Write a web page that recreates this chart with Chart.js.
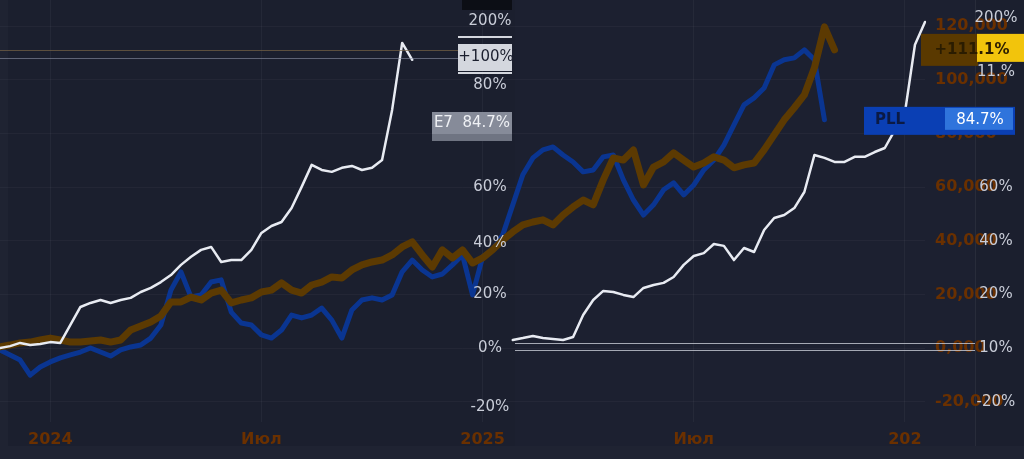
<!DOCTYPE html>
<html>
<head>
<meta charset="utf-8">
<script src="https://cdn.jsdelivr.net/npm/chart.js@4.4.1/dist/chart.umd.min.js"></script>
<style>
  html, body { margin: 0; padding: 0; background: #1b1f2e; overflow: hidden; }
  #chart { display: block; }
</style>
</head>
<body>
<canvas id="chart" width="1024" height="459"></canvas>
<script>
// weekly points, Dec 2023 .. early 2026
const weekCount = 93;
const weeks = Array.from({ length: weekCount }, (_, i) => "w" + i);

// x tick labels: index -> text
const xTickIndex = [5, 26, 48, 69, 90];
const xTickText = ["2024", "Июл", "2025", "Июл", "202"];

const yTickValues = [-20000, 0, 20000, 40000, 60000, 80000, 100000, 120000];

// series values, thousands
const orangeSeries = [
  0.4, 1.1, 1.9, 2.2, 3.0, 3.7, 3.0, 2.2, 2.2, 2.6,
  3.0, 2.2, 3.0, 6.7, 8.2, 9.7, 11.9, 17.2, 17.2, 19.0,
  17.9, 20.5, 21.6, 16.8, 17.9, 18.7, 20.9, 21.6, 24.3, 21.6,
  20.5, 23.5, 24.6, 26.5, 26.1, 29.1, 31.0, 32.1, 32.8, 34.7,
  37.7, 39.6, 34.7, 30.2, 36.6, 33.6, 36.6, 31.7, 33.6, 36.6,
  40.3, 43.3, 45.9, 47.0, 47.8, 45.9, 49.6, 52.6, 55.2, 53.4,
  62.7, 70.9, 70.1, 73.9, 60.8, 67.5, 69.4, 72.8, 70.1, 67.5,
  69.0, 71.3, 70.1, 67.2, 68.3, 69.0, 73.9, 79.5, 85.1, 89.6,
  94.4, 104.5, 119.8, 111.2
];

const blueSeries = [
  -0.7, -2.6, -4.5, -10.1, -7.1, -5.2, -3.7, -2.6, -1.5, 0,
  -1.5, -3.0, -0.7, 0.4, 1.1, 3.7, 8.6, 21.6, 28.4, 19.0,
  19.8, 24.6, 25.4, 13.4, 9.3, 8.6, 4.9, 3.7, 6.7, 12.3,
  11.2, 12.3, 14.9, 10.4, 3.7, 14.2, 17.9, 18.7, 17.9, 19.8,
  28.4, 32.8, 29.1, 26.5, 27.6, 31.0, 34.7, 19.8, 34.0, 36.6,
  42.2, 53.4, 64.6, 70.9, 73.9, 75.0, 72.0, 69.4, 65.7, 66.4,
  71.3, 72.0, 62.7, 55.2, 49.6, 53.4, 59.0, 61.6, 57.1, 60.8,
  66.4, 70.1, 75.7, 83.2, 90.7, 93.3, 97.0, 105.6, 107.5, 108.2,
  111.2, 107.5, 85.1
];

const whiteSeriesA = [
  0, 0.7, 1.9, 1.1, 1.5, 2.2, 1.9, 8.6, 15.3, 16.8,
  17.9, 16.8, 17.9, 18.7, 20.9, 22.4, 24.6, 27.2, 31.0, 34.0,
  36.6, 37.7, 32.1, 32.8, 32.8, 36.6, 42.9, 45.5, 47.0, 52.2,
  60.1, 68.3, 66.4, 65.7, 67.2, 67.9, 66.4, 67.2, 70.1, 88.8,
  113.8, 107.5
];

const whiteSeriesBStart = 51;
const whiteSeriesB = [
  3.0, 3.7, 4.5, 3.7, 3.4, 3.0, 4.1, 12.3, 17.9, 21.3,
  20.9, 19.8, 19.0, 22.4, 23.5, 24.3, 26.5, 31.0, 34.3, 35.4,
  38.8, 38.1, 32.8, 37.3, 35.8, 44.0, 48.5, 49.6, 52.2, 58.2,
  72.0, 70.9, 69.4, 69.4, 71.3, 71.3, 73.1, 74.6, 81.3, 87.7,
  113.1, 121.6
];

const leftPctLabels = [
  { v: 122000, t: "200%" }, { v: 98000, t: "80%" }, { v: 60000, t: "60%" },
  { v: 39000, t: "40%" }, { v: 20000, t: "20%" }, { v: 0, t: "0%" }, { v: -22000, t: "-20%" }
];
const rightPctLabels = [
  { v: 123000, t: "200%" }, { v: 103000, t: "11.%" }, { v: 60000, t: "60%" },
  { v: 40000, t: "40%" }, { v: 20000, t: "20%" }, { v: 0, t: "10%" }, { v: -20000, t: "-20%" }
];

const toUnits = (arr) => arr.map((v) => (v === null ? null : v * 1000));
const padSeries = (arr, start) => {
  const out = new Array(weekCount).fill(null);
  arr.forEach((v, i) => { out[start + i] = v * 1000; });
  return out;
};
const noPadding = (s) => {
  s.paddingTop = 0;
  s.paddingBottom = 0;
  s.paddingLeft = 0;
  s.paddingRight = 0;
};

const overlays = {
  id: "overlays",
  beforeDraw(chart) {
    const { ctx } = chart;
    ctx.save();
    ctx.fillStyle = "#1b1f2e";
    ctx.fillRect(0, 0, chart.width, chart.height);
    ctx.fillStyle = "#1f2332";
    ctx.fillRect(0, 446, chart.width, chart.height - 446);
    ctx.fillRect(0, 0, 8, 446);
    ctx.fillStyle = "#1c2030";
    ctx.fillRect(515, 0, 460, 446);
    ctx.strokeStyle = "rgba(255,255,255,0.06)";
    ctx.beginPath();
    ctx.moveTo(975.5, 0);
    ctx.lineTo(975.5, 446);
    ctx.stroke();
    ctx.restore();
  },
  afterDatasetsDraw(chart) {
    const { ctx } = chart;
    const y = chart.scales.y;
    const py = (v) => Math.round(y.getPixelForValue(v)) + 0.5;
    ctx.save();
    // price lines
    ctx.lineWidth = 1;
    ctx.strokeStyle = "rgba(120,100,70,0.7)";
    ctx.beginPath();
    ctx.moveTo(0, py(111200));
    ctx.lineTo(460, py(111200));
    ctx.stroke();
    ctx.strokeStyle = "rgba(140,145,165,0.6)";
    ctx.beginPath();
    ctx.moveTo(0, py(108000));
    ctx.lineTo(460, py(108000));
    ctx.stroke();
    ctx.strokeStyle = "rgba(200,204,214,0.8)";
    [1900, -700].forEach((v) => {
      ctx.beginPath();
      ctx.moveTo(515, py(v));
      ctx.lineTo(975, py(v));
      ctx.stroke();
    });

    // percent labels
    ctx.font = "15px 'DejaVu Sans', sans-serif";
    ctx.fillStyle = "#c9cdd8";
    ctx.textAlign = "center";
    ctx.textBaseline = "middle";
    leftPctLabels.forEach((l) => ctx.fillText(l.t, 490, y.getPixelForValue(l.v)));
    rightPctLabels.forEach((l) => ctx.fillText(l.t, 996, y.getPixelForValue(l.v)));

    // top dark box
    ctx.fillStyle = "#0c0e15";
    ctx.fillRect(462, 0, 50, 10);

    // left white box
    ctx.fillStyle = "#d4d7de";
    ctx.fillRect(458, 44, 54, 27);
    ctx.fillStyle = "#1b1f2e";
    ctx.fillText("+100%", 486, 57);
    ctx.fillStyle = "#d4d7de";
    ctx.fillRect(458, 36, 54, 2);
    ctx.fillRect(458, 72, 54, 2);

    // gray box
    ctx.fillStyle = "#868b99";
    ctx.fillRect(432, 112, 80, 22);
    ctx.fillStyle = "#6f7482";
    ctx.fillRect(432, 134, 80, 7);
    ctx.fillStyle = "#eef0f4";
    ctx.fillText("E7  84.7%", 472, 123);

    // orange last value label
    const oy = y.getPixelForValue(orangeSeries[orangeSeries.length - 1] * 1000);
    ctx.fillStyle = "#5a3900";
    ctx.fillRect(921, oy - 16, 57, 32);
    ctx.fillStyle = "#f2c40c";
    ctx.fillRect(977, oy - 16, 47, 28);
    ctx.fillStyle = "#2a1c00";
    ctx.font = "bold 15px 'DejaVu Sans', sans-serif";
    ctx.fillText("+111.1%", 972, oy);

    // blue last value label
    const by = y.getPixelForValue(blueSeries[blueSeries.length - 1] * 1000);
    ctx.fillStyle = "#0a3fb4";
    ctx.fillRect(864, by - 13, 151, 28);
    ctx.fillStyle = "#2f74dc";
    ctx.fillRect(945, by - 12, 68, 22);
    ctx.fillStyle = "#0b1a44";
    ctx.fillText("PLL", 890, by);
    ctx.fillStyle = "#ffffff";
    ctx.font = "15px 'DejaVu Sans', sans-serif";
    ctx.fillText("84.7%", 980, by);
    ctx.restore();
  }
};

new Chart(document.getElementById("chart"), {
  type: "line",
  data: {
    labels: weeks,
    datasets: [
      {
        data: whiteSeriesA.map((v) => v * 1000).concat(new Array(weekCount - whiteSeriesA.length).fill(null)),
        borderColor: "#e8ebf2",
        borderWidth: 2.5,
        order: 1
      },
      {
        data: padSeries(whiteSeriesB, whiteSeriesBStart),
        borderColor: "#e8ebf2",
        borderWidth: 2.5,
        order: 1
      },
      {
        data: toUnits(orangeSeries),
        borderColor: "#5c3a02",
        borderWidth: 7,
        order: 2
      },
      {
        data: toUnits(blueSeries),
        borderColor: "#0a3591",
        borderWidth: 5,
        order: 3
      }
    ]
  },
  options: {
    responsive: false,
    animation: false,
    devicePixelRatio: 1,
    spanGaps: false,
    layout: { padding: 0 },
    elements: {
      point: { radius: 0 },
      line: { tension: 0, borderJoinStyle: "round", borderCapStyle: "round" }
    },
    plugins: {
      legend: { display: false },
      tooltip: { enabled: false }
    },
    scales: {
      x: {
        type: "category",
        offset: false,
        border: { display: false },
        grid: { color: "rgba(255,255,255,0.045)", drawTicks: false },
        ticks: {
          autoSkip: false,
          maxRotation: 0,
          padding: 8,
          color: "#6a3000",
          font: { family: "'DejaVu Sans', sans-serif", size: 16, weight: "bold" },
          callback: (val, i) => {
            const k = xTickIndex.indexOf(i);
            return k >= 0 ? xTickText[k] : null;
          }
        },
        afterFit: (s) => { s.height = 37; noPadding(s); }
      },
      y: {
        position: "right",
        min: -27600,
        max: 129800,
        border: { display: false },
        grid: { color: "rgba(255,255,255,0.035)", drawTicks: false },
        afterBuildTicks: (s) => { s.ticks = yTickValues.map((v) => ({ value: v })); },
        ticks: {
          padding: 10,
          color: "#6a3000",
          font: { family: "'DejaVu Sans', sans-serif", size: 16, weight: "bold" },
          callback: (v) => (v === 0 ? "0,000" : v.toLocaleString("en-US"))
        },
        afterFit: (s) => { s.width = 99; noPadding(s); }
      }
    }
  },
  plugins: [overlays]
});
</script>
</body>
</html>
